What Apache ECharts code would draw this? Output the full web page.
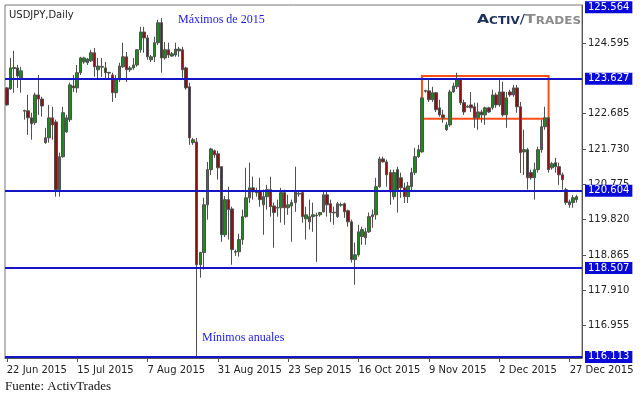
<!DOCTYPE html>
<html><head><meta charset="utf-8">
<script src="https://cdn.jsdelivr.net/npm/echarts@6/dist/echarts.min.js"></script>
<style>html,body{margin:0;padding:0;background:#fff}#c{width:644px;height:399px}</style>
</head><body><div id="c"></div>
<script>
// ---- data (USDJPY daily) ----
const opens = [123.38,123.35,123.90,123.92,123.65,122.75,122.76,122.57,122.44,123.19,123.08,121.90,122.03,122.57,122.46,120.63,121.52,122.19,122.52,123.43,
123.38,123.79,124.08,124.06,124.11,124.33,123.87,123.94,123.92,123.78,123.73,123.25,123.60,123.95,124.22,123.87,123.92,124.00,124.41,124.89,
124.73,124.14,124.22,124.60,125.14,124.19,124.41,124.24,124.27,124.38,124.41,123.92,123.41,121.90,121.92,118.60,118.93,120.22,121.17,121.68,
121.60,121.25,119.41,120.36,120.11,118.94,118.95,119.28,119.90,120.41,120.68,120.54,120.57,120.22,120.44,120.63,120.19,120.13,120.14,120.55,
120.14,120.19,120.28,120.51,120.55,119.84,119.76,119.90,119.92,119.95,120.03,120.49,120.25,120.00,119.90,120.21,120.25,120.06,119.76,118.74,
118.87,119.36,119.33,119.49,119.90,119.95,120.71,121.46,121.38,121.09,120.44,121.17,120.95,120.68,120.44,120.71,121.09,121.52,121.65,123.29,
123.30,123.06,123.25,122.84,122.65,122.25,122.38,123.27,123.41,123.60,122.98,122.86,122.92,122.87,122.57,122.73,122.65,122.84,122.84,123.19,
122.92,123.27,122.65,123.27,123.19,123.38,122.87,121.65,121.71,121.09,120.95,121.17,121.71,122.33,122.57,121.22,121.36,121.25,121.03,120.63,
120.22,120.28,120.36];
const closes = [122.92,123.92,123.93,123.70,123.84,122.77,122.57,122.41,123.19,123.08,122.89,122.03,122.57,122.38,120.63,121.52,122.71,122.57,123.46,123.38,
123.79,124.19,124.19,124.16,124.33,123.95,123.97,123.96,123.79,123.80,123.25,123.60,123.97,124.22,123.87,123.92,124.00,124.41,124.89,124.73,
124.22,124.22,124.60,125.14,124.19,124.41,124.27,124.30,124.43,124.43,123.87,123.38,122.03,121.98,118.60,118.93,120.22,121.17,121.73,121.57,
121.22,119.41,120.36,120.09,119.01,118.96,119.28,119.90,120.41,120.68,120.57,120.56,120.36,120.44,120.63,120.17,120.01,120.15,120.55,120.14,
120.22,120.28,120.57,120.53,119.90,119.95,119.90,119.95,119.94,120.01,120.49,120.22,120.01,120.02,120.25,120.23,120.03,119.76,118.74,118.87,
119.49,119.55,119.49,119.90,119.95,120.71,121.46,121.38,121.03,120.57,121.09,120.63,120.68,120.44,120.73,121.09,121.52,121.71,123.11,123.31,
123.06,123.25,122.79,122.65,122.57,122.38,123.27,123.43,123.60,122.98,122.73,122.88,122.84,122.57,122.73,122.65,122.84,122.73,123.19,122.92,
123.27,122.65,123.11,123.19,123.38,122.87,121.63,121.71,120.95,120.95,121.17,121.71,122.33,122.57,121.17,121.33,121.25,121.03,120.90,120.28,
120.30,120.41,120.44];
const lows = [122.90,123.33,123.25,123.38,123.25,122.52,122.11,121.98,122.38,122.65,122.60,121.87,121.90,121.98,120.44,120.44,121.49,122.17,122.46,123.27,
123.25,123.73,124.03,124.00,124.08,123.68,123.60,123.68,123.60,123.60,123.00,123.11,123.54,123.92,123.54,123.81,123.87,123.95,124.33,124.33,
124.14,124.08,124.08,124.54,123.79,124.14,124.19,124.22,124.22,124.22,123.65,123.33,121.84,121.84,116.113,118.25,118.47,119.82,121.03,121.49,
120.90,119.22,119.35,119.28,118.60,118.84,118.82,119.14,119.87,120.27,120.36,120.44,120.17,119.41,120.09,119.90,119.06,119.90,119.74,119.68,
119.95,119.22,120.03,120.44,119.74,119.28,119.55,119.49,118.68,119.90,120.01,119.90,119.76,119.68,119.87,120.17,119.87,119.63,118.66,118.06,
118.82,119.14,119.14,119.46,119.60,119.82,120.68,121.36,120.71,120.22,120.36,120.01,120.41,120.27,120.27,120.57,121.03,121.49,121.63,123.25,
123.00,123.00,122.73,122.60,122.44,122.22,122.33,123.25,123.35,122.92,122.65,122.84,122.73,122.30,122.25,122.44,122.38,122.70,122.79,122.84,
122.87,122.60,122.30,123.14,123.14,122.71,121.08,121.03,120.63,120.90,120.36,121.09,121.63,122.25,121.09,121.17,121.09,120.76,120.63,120.22,
120.14,120.14,120.28];
const highs = [123.40,124.19,124.38,124.00,123.95,122.79,123.19,122.71,123.25,123.73,123.14,122.30,122.92,122.87,122.52,121.63,122.87,122.65,123.52,123.73,
124.00,124.22,124.22,124.19,124.41,124.46,124.19,124.19,124.08,123.81,123.79,123.73,124.06,124.60,124.35,123.97,124.19,124.43,125.03,125.03,
124.81,124.27,124.76,125.22,125.27,124.62,124.60,124.35,124.60,124.49,124.49,123.95,123.52,122.03,122.03,118.95,120.41,121.38,121.76,121.71,
121.68,121.27,120.46,120.71,120.17,119.01,119.44,120.09,121.22,121.36,120.98,120.68,120.95,120.63,120.76,120.98,120.28,120.36,120.68,120.63,
120.49,120.36,121.25,120.57,120.57,120.17,120.36,120.28,120.01,120.03,120.57,120.57,120.36,120.17,120.30,120.28,120.28,120.09,119.82,119.20,
119.68,119.63,119.60,120.01,120.09,120.95,121.52,121.52,121.44,121.17,121.17,121.25,121.09,120.82,120.84,121.22,121.76,121.84,123.14,123.33,
123.65,123.41,123.27,123.06,122.79,122.46,123.33,123.52,123.79,123.65,123.06,122.92,123.27,122.98,122.98,122.79,122.87,122.87,123.33,123.25,
123.65,123.54,123.27,123.33,123.46,123.46,123.00,122.25,121.76,121.17,121.36,121.79,122.52,122.87,122.60,121.38,121.49,121.36,121.09,120.68,
120.36,120.49,120.49];
const firstDay = '2015-06-22';
const noTradeDays = ['2015-12-25'];
const levels = [123.627, 120.604, 118.507, 116.113];
const topLevel = 125.564;
const yTickValues = [124.595, 122.685, 121.730, 120.775, 119.820, 118.865, 117.910, 116.955];
const rangeBox = { from: 118, to: 154, top: 123.704, bottom: 122.543 };

// ---- categories: trading days incl. Sunday bars ----
const MONTHS = ['Jan','Feb','Mar','Apr','May','Jun','Jul','Aug','Sep','Oct','Nov','Dec'];
const dates = [];
(function(){
  const d = new Date(firstDay + 'T12:00:00Z');
  while (dates.length < opens.length + 1) {
    const iso = d.toISOString().slice(0,10);
    if (d.getUTCDay() !== 6 && noTradeDays.indexOf(iso) < 0) {
      dates.push(d.getUTCDate() + ' ' + MONTHS[d.getUTCMonth()] + ' ' + d.getUTCFullYear());
    }
    d.setUTCDate(d.getUTCDate() + 1);
  }
})();
const ohlc = opens.map((o, i) => [o, closes[i], lows[i], highs[i]]);

const chart = echarts.init(document.getElementById('c'), null, { renderer: 'canvas' });
const F = 'DejaVu Sans';
const labelBox = {
  show: true, position: 'end', distance: 3,
  formatter: p => p.name,
  color: '#fff', backgroundColor: '#0a0ad8', padding: [1, 3, 0, 3],
  fontFamily: F, fontSize: 10, lineHeight: 11
};
const levelItems = levels.map(v => ({ yAxis: v, name: v.toFixed(3) }));
levelItems.push({ yAxis: topLevel, name: topLevel.toFixed(3), lineStyle: { color: 'rgba(0,0,0,0)', width: 0 } });
chart.setOption({
  animation: false,
  backgroundColor: '#fff',
  grid: { left: 5, top: 5, width: 577, height: 353, show: true, borderColor: '#777', borderWidth: 1, backgroundColor: '#fff' },
  xAxis: {
    type: 'category', data: dates, boundaryGap: true,
    axisLine: { show: true, lineStyle: { color: '#555' } },
    axisTick: { show: true, interval: 19, alignWithLabel: true, length: 4, lineStyle: { color: '#555' } },
    axisLabel: { interval: 19, align: 'left', margin: 7, color: '#222', fontFamily: F, fontSize: 10 },
    splitLine: { show: false }
  },
  yAxis: {
    type: 'value', position: 'right', min: 116.08, max: 125.62, scale: true,
    axisLine: { show: true, lineStyle: { color: '#555' } },
    axisTick: { show: true, length: 4, customValues: yTickValues, lineStyle: { color: '#555' } },
    axisLabel: { customValues: yTickValues, margin: 6, color: '#222', fontFamily: F, fontSize: 10, formatter: v => v.toFixed(3) },
    splitLine: { show: false }
  },
  series: [{
    type: 'candlestick',
    data: ohlc,
    barWidth: 3,
    itemStyle: { color: '#1e8a1e', color0: '#8e1010', borderColor: '#505050', borderColor0: '#505050', borderWidth: 1 },
    markLine: {
      silent: true, symbol: ['none', 'none'], animation: false,
      lineStyle: { color: '#1515c8', width: 2, type: 'solid' },
      label: labelBox,
      data: levelItems
    },
    markArea: {
      silent: true,
      itemStyle: { color: 'rgba(0,0,0,0)', borderColor: '#ff4d1a', borderWidth: 2 },
      data: [[{ xAxis: rangeBox.from, yAxis: rangeBox.top }, { xAxis: rangeBox.to, yAxis: rangeBox.bottom }]]
    }
  }],
  graphic: [
    { type: 'text', left: 9, top: 10, style: { text: 'USDJPY,Daily', fill: '#222', font: '10px "DejaVu Sans"' } },
    { type: 'text', left: 178, top: 14, style: { text: 'Máximos de 2015', fill: '#1a1ae6', font: '12px "Liberation Serif"' } },
    { type: 'text', left: 202, top: 332, style: { text: 'Mínimos anuales', fill: '#1a1ae6', font: '12px "Liberation Serif"' } },
    { type: 'text', left: 5, top: 380, style: { text: 'Fuente: ActivTrades', fill: '#111', font: '13px "Liberation Serif"' } },
    { type: 'text', x: 477, y: 13, scaleX: 1.2, style: {
        text: '{a|A}{b|CTIV}{s|/}{c|T}{d|RADES}',
        rich: {
          a: { fontFamily: F, fontWeight: 'bold', fontSize: 13, fill: '#1f2f5c', verticalAlign: 'bottom' },
          b: { fontFamily: F, fontWeight: 'bold', fontSize: 10, fill: '#1f2f5c', verticalAlign: 'bottom' },
          s: { fontFamily: F, fontSize: 13, fill: '#1f2f5c', verticalAlign: 'bottom' },
          c: { fontFamily: F, fontWeight: 'bold', fontSize: 13, fill: '#8c8c8c', verticalAlign: 'bottom' },
          d: { fontFamily: F, fontWeight: 'bold', fontSize: 10, fill: '#8c8c8c', verticalAlign: 'bottom' }
        }
      } }
  ]
});
</script></body></html>
